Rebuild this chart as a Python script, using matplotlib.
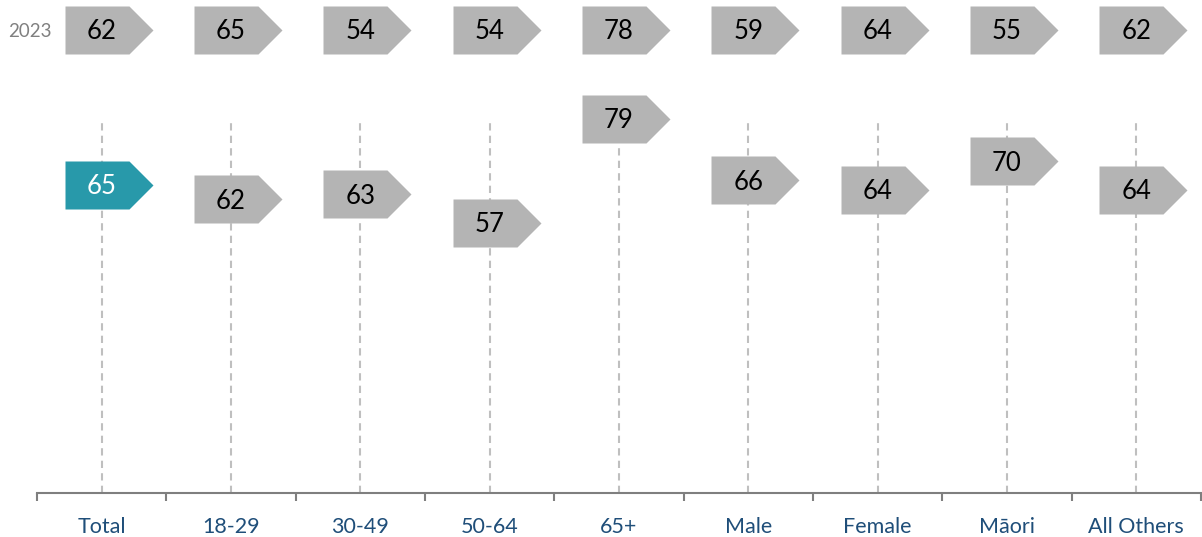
import matplotlib.pyplot as plt
import numpy as np
from matplotlib.path import Path
from matplotlib.transforms import offset_copy

# ── Data ──────────────────────────────────────────────────────────────────────
categories = ["Total", "18-29", "30-49", "50-64", "65+", "Male", "Female", "Māori", "All Others"]
values_now = [65, 62, 63, 57, 79, 66, 64, 70, 64]
values_2023 = [62, 65, 54, 54, 78, 59, 64, 55, 62]
prev_label = "2023"

# ── Colors ────────────────────────────────────────────────────────────────────
C_GREY = '#B4B4B4'
C_TEAL = '#2899AA'
C_DROP = '#BFBFBF'
C_AXIS = '#7F7F7F'
C_LABEL = '#1F4E79'

plt.rcParams['font.family'] = ['Lato', 'DejaVu Sans']

fig = plt.figure(figsize=(12.02, 5.37), dpi=100)
ax = fig.add_axes([37 / 1202, 44 / 537, 1164 / 1202, 493 / 537])
ax.set_xlim(-0.5, len(categories) - 0.5)
ax.set_ylim(0, 104)
txt_tr = offset_copy(ax.transData, fig=fig, y=-2, units='dots')

# arrow (pentagon) marker, origin at text position
verts = [(-37, -24), (27, -24), (51, 0), (27, 24), (-37, 24), (-37, -24)]
codes = [Path.MOVETO, Path.LINETO, Path.LINETO, Path.LINETO, Path.LINETO, Path.CLOSEPOLY]
arrow = Path(verts, codes)
ms = 2 * 51 * 72 / 100  # max abs vertex maps to half marker size

x = np.arange(len(categories))

# drop lines
ax.vlines(x, 0, max(values_now) - 1, colors=C_DROP, lw=1.5, linestyles=(0, (3.5, 2.5)), zorder=1)

# current values
colors = [C_TEAL] + [C_GREY] * (len(categories) - 1)
for xi, v, c in zip(x, values_now, colors):
    ax.plot(xi, v, marker=arrow, ms=ms, color=c, mec='none', ls='none', zorder=3)
    ax.text(xi, v, str(v), ha='center', va='center', fontsize=18.5, transform=txt_tr,
            color='white' if c == C_TEAL else 'black', zorder=4)

# previous year row
y_prev = 97.7
ax.plot(x, [y_prev] * len(x), marker=arrow, ms=ms, color=C_GREY, mec='none', ls='none',
        zorder=3, clip_on=False)
for xi, v in zip(x, values_2023):
    ax.text(xi, y_prev, str(v), ha='center', va='center', fontsize=18.5, transform=txt_tr,
            color='black', zorder=4)
ax.text(-0.5 - 29 / 129.3, y_prev, prev_label, ha='left', va='center', fontsize=13.5,
        transform=txt_tr, color='#808080')

# ── Axes styling ──────────────────────────────────────────────────────────────
for s in ['top', 'right', 'left']:
    ax.spines[s].set_visible(False)
ax.spines['bottom'].set_color(C_AXIS)
ax.spines['bottom'].set_linewidth(1.5)
ax.set_yticks([])

ax.set_xticks(np.arange(-0.5, len(categories)), labels=[])
ax.tick_params(axis='x', which='major', direction='out', length=5.5, width=1.5, color=C_AXIS)
ax.set_xticks(x, labels=categories, minor=True)
ax.tick_params(axis='x', which='minor', length=0, pad=17, labelsize=15.5, labelcolor=C_LABEL)

fig.savefig('out.png', dpi=100)
